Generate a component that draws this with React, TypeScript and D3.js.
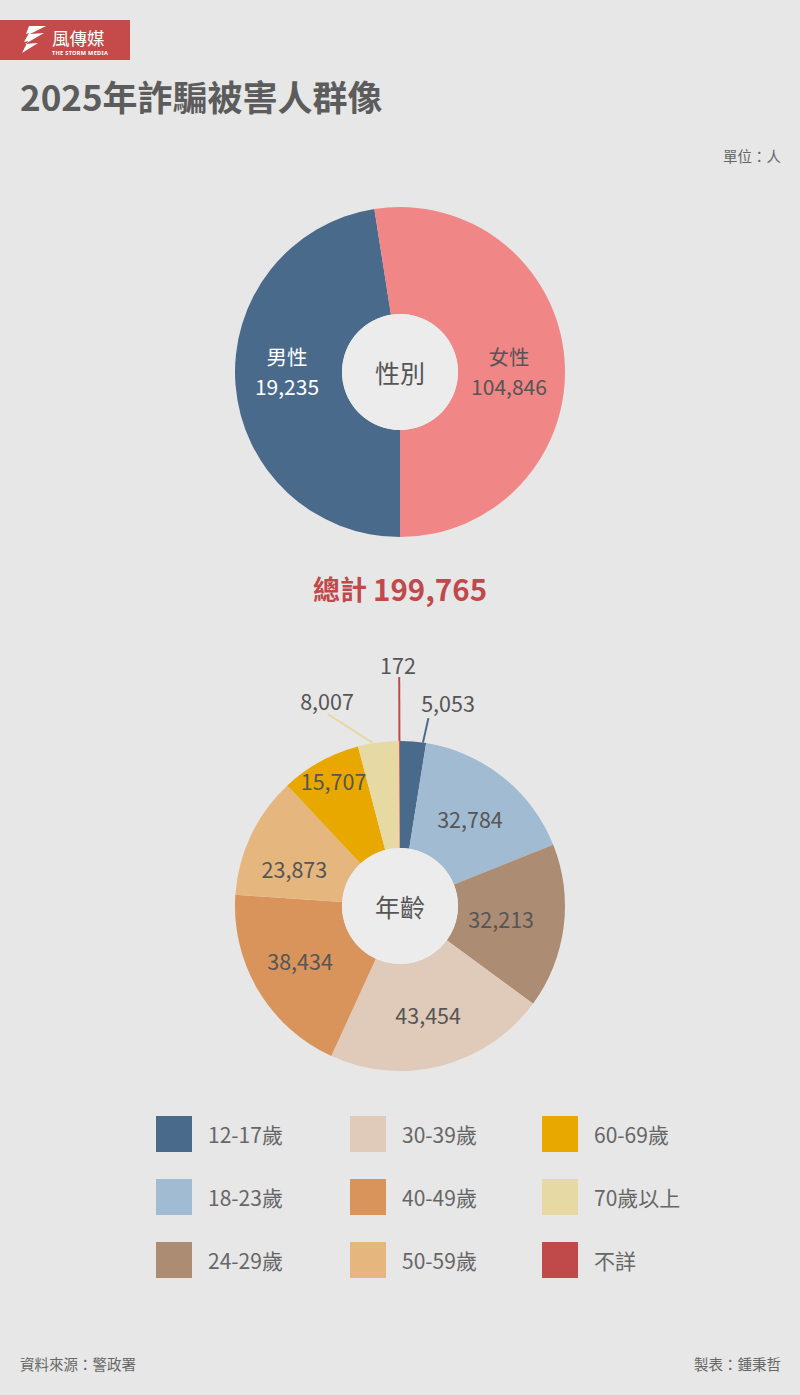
import React from "react";
import * as d3 from "d3";

const genderCategories = ["男性", "女性"];
const genderLabels = ["19,235", "104,846"];
// arc sizes as drawn in the picture (male arc spans total minus female)
const genderArcValues = [94919, 104846];
const genderColors = ["#4a6a8c", "#f08686"];

const totalLabel = "199,765";

const ageCategories = ["12-17歲", "18-23歲", "24-29歲", "30-39歲", "40-49歲", "50-59歲", "60-69歲", "70歲以上", "不詳"];
const ageValues = [5053, 32784, 32213, 43454, 38434, 23873, 15707, 8007, 172];
const ageColors = ["#4a6a8c", "#a1bcd2", "#ad8c74", "#e0cbbb", "#d9945c", "#e6b67f", "#e8a800", "#e6d9a3", "#c04a4a"];

const BG = "#e7e7e7";
const HOLE = "#ececec";
const FONT = "'Noto Sans CJK TC', 'Noto Sans', sans-serif";

const polar = (r: number, a: number): [number, number] => [r * Math.sin(a), -r * Math.cos(a)];
const deg = (d: number) => (d * Math.PI) / 180;

export default function App() {
  const W = 800, H = 1395;
  const rOuter = 165, rInner = 58;
  const arcGen = d3.arc<d3.PieArcDatum<number>>().innerRadius(rInner).outerRadius(rOuter);

  // gender pie
  const gCx = 400, gCy = 372;
  const gPie = d3.pie<number>().sort(null).startAngle(Math.PI).endAngle(3 * Math.PI)(genderArcValues);
  const gLabelPos: [number, number][] = [[-113, -1.5], [109, -1.5]];
  const gTextColors = ["#ffffff", "#555555"];

  // age pie
  const aCx = 400, aCy = 906;
  const aPie = d3.pie<number>().sort(null).startAngle(0).endAngle(2 * Math.PI)(ageValues);
  const labelRadius: Record<number, number> = { 1: 112, 2: 102, 3: 112, 4: 114, 5: 112, 6: 142 };
  const labelAngleShift: Record<number, number> = { 4: 2, 5: -6, 6: 1 };
  const outside: Record<number, { a0: number; r0: number; a1: number; r1: number; lx: number; ly: number }> = {
    0: { a0: 8, r0: 165, a1: 8.6, r1: 190, lx: 48, ly: -204 },
    7: { a0: 350.6, r0: 165, a1: 339.4, r1: 205, lx: -73, ly: -206 },
    8: { a0: 359.8, r0: 165, a1: 359.8, r1: 229, lx: -2, ly: -242 },
  };

  const legendX = [156, 350, 542];
  const legendY = [1116, 1179, 1242];
  const fs = 21.5;

  return (
    <svg width={W} height={H} style={{ position: "absolute", left: 0, top: 0, background: BG, fontFamily: FONT }}>
      <rect x={0} y={0} width={W} height={H} fill={BG} />
      {/* logo */}
      <rect x={0} y={20} width={130} height={40} fill="#c44b49" />
      <path d="M29,26 L46,26 L30,34 L44,33 L25,44 L38,43 L22,53 L28,41 L24,42 L29,33 L26,34 Z" fill="#ffffff" />
      <text x={52} y={45} fill="#fff" fontSize={17.5} fontFamily={FONT}>風傳媒</text>
      <text x={52} y={54.5} fill="#fff" fontSize={5.6} fontWeight={700} fontFamily="'Noto Sans', sans-serif" letterSpacing={0.3}>THE STORM MEDIA</text>

      <text x={20} y={111} fill="#5c5c5c" fontSize={35} fontWeight={700}>2025年詐騙被害人群像</text>
      <text x={781} y={162} fill="#666" fontSize={14.5} textAnchor="end">單位：人</text>

      <g transform={`translate(${gCx},${gCy})`}>
        {gPie.map((d, i) => (
          <path key={i} d={arcGen(d) || ""} fill={genderColors[i]} />
        ))}
        <circle r={rInner} fill={HOLE} />
        <text y={0} fill="#555" fontSize={25} textAnchor="middle" dominantBaseline="central">性別</text>
        {gPie.map((d, i) => (
          <g key={i}>
            <text x={gLabelPos[i][0]} y={gLabelPos[i][1] - 15} fill={gTextColors[i]} fontSize={20.5} textAnchor="middle" dominantBaseline="central">{genderCategories[i]}</text>
            <text x={gLabelPos[i][0]} y={gLabelPos[i][1] + 15} fill={gTextColors[i]} fontSize={21} textAnchor="middle" dominantBaseline="central">{genderLabels[i]}</text>
          </g>
        ))}
      </g>

      <text x={400} y={588} fill="#c0494b" fontSize={29.5} fontWeight={700} textAnchor="middle" dominantBaseline="central">
        <tspan fontSize={27}>總計 </tspan>{totalLabel}
      </text>

      <g transform={`translate(${aCx},${aCy})`}>
        {aPie.map((d, i) => (
          <path key={i} d={arcGen(d) || ""} fill={ageColors[i]} />
        ))}
        <circle r={rInner} fill={HOLE} />
        <text y={0} fill="#555" fontSize={25} textAnchor="middle" dominantBaseline="central">年齡</text>
        {aPie.map((d, i) => {
          const label = d3.format(",")(ageValues[i]);
          if (outside[i]) {
            const o = outside[i];
            const [x0, y0] = polar(o.r0, deg(o.a0));
            const [x1, y1] = polar(o.r1, deg(o.a1));
            return (
              <g key={i}>
                <line x1={x0} y1={y0} x2={x1} y2={y1} stroke={ageColors[i]} strokeWidth={2} />
                <text x={o.lx} y={o.ly} fill="#555" fontSize={fs} textAnchor="middle" dominantBaseline="central">{label}</text>
              </g>
            );
          }
          const mid = (d.startAngle + d.endAngle) / 2 + deg(labelAngleShift[i] ?? 0);
          const [x, y] = polar(labelRadius[i] ?? 112, mid);
          return (
            <text key={i} x={x} y={y} fill="#555" fontSize={fs} textAnchor="middle" dominantBaseline="central">{label}</text>
          );
        })}
      </g>

      {ageCategories.map((c, i) => {
        const col = Math.floor(i / 3), row = i % 3;
        return (
          <g key={c} transform={`translate(${legendX[col]},${legendY[row]})`}>
            <rect width={36} height={36} fill={ageColors[i]} />
            <text x={52} y={18} fill="#666" fontSize={21} dominantBaseline="central">{c}</text>
          </g>
        );
      })}

      <text x={20} y={1370} fill="#666" fontSize={14.5}>資料來源：警政署</text>
      <text x={781} y={1370} fill="#666" fontSize={14.5} textAnchor="end">製表：鍾秉哲</text>
    </svg>
  );
}
